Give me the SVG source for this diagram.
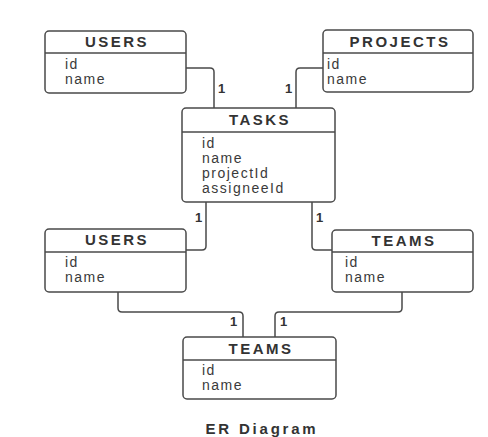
<svg xmlns="http://www.w3.org/2000/svg" width="488" height="437" viewBox="0 0 488 437">
<style>
.box{fill:#fff;stroke:#4a4a4a;stroke-width:1.5}
.div{stroke:#4a4a4a;stroke-width:1.3}
.title{font-family:"Liberation Sans",Arial,sans-serif;font-weight:bold;font-size:15px;letter-spacing:2.5px;fill:#333;text-anchor:middle}
.attr{font-family:"Liberation Sans",Arial,sans-serif;font-size:14px;letter-spacing:1.5px;fill:#3a3a3a}
.card{font-family:"Liberation Sans",Arial,sans-serif;font-weight:bold;font-size:13px;fill:#333}
.conn{fill:none;stroke:#4a4a4a;stroke-width:1.5}
.cap{font-family:"Liberation Sans",Arial,sans-serif;font-weight:bold;font-size:15px;letter-spacing:2.8px;fill:#333;text-anchor:middle}
</style>
<rect width="488" height="437" fill="#fff"/>
<g id="connectors">
<path class="conn" d="M186 68 H210 Q214 68 214 72 V108"/>
<path class="conn" d="M323 68 H300 Q296 68 296 72 V108"/>
<path class="conn" d="M206 202 V246 Q206 250 202 250 H186"/>
<path class="conn" d="M312 202 V246 Q312 250 316 250 H332"/>
<path class="conn" d="M118 292 V308 Q118 312 122 312 H239 Q243 312 243 316 V337"/>
<path class="conn" d="M402 292 V308 Q402 312 398 312 H279 Q275 312 275 316 V337"/>
<text class="card" x="218" y="93">1</text>
<text class="card" x="285" y="93">1</text>
<text class="card" x="195" y="222">1</text>
<text class="card" x="316" y="222">1</text>
<text class="card" x="230" y="326">1</text>
<text class="card" x="280" y="326">1</text>
</g>
<g id="users1">
<rect class="box" x="45" y="31" width="141" height="62" rx="4"/>
<line class="div" x1="45" y1="53" x2="186" y2="53"/>
<text class="title" x="117" y="47">USERS</text>
<text class="attr" x="65" y="69">id</text>
<text class="attr" x="65" y="84">name</text>
</g>
<g id="projects">
<rect class="box" x="323" y="30" width="150" height="62" rx="4"/>
<line class="div" x1="323" y1="53" x2="473" y2="53"/>
<text class="title" x="400" y="47">PROJECTS</text>
<text class="attr" x="327" y="69">id</text>
<text class="attr" x="327" y="84">name</text>
</g>
<g id="tasks">
<rect class="box" x="182" y="108" width="153" height="94" rx="4"/>
<line class="div" x1="182" y1="132" x2="335" y2="132"/>
<text class="title" x="260" y="125">TASKS</text>
<text class="attr" x="202" y="148">id</text>
<text class="attr" x="202" y="163">name</text>
<text class="attr" x="202" y="178">projectId</text>
<text class="attr" x="202" y="193">assigneeId</text>
</g>
<g id="users2">
<rect class="box" x="45" y="229" width="141" height="63" rx="4"/>
<line class="div" x1="45" y1="252" x2="186" y2="252"/>
<text class="title" x="117" y="245">USERS</text>
<text class="attr" x="65" y="267">id</text>
<text class="attr" x="65" y="282">name</text>
</g>
<g id="teams1">
<rect class="box" x="332" y="230" width="141" height="62" rx="4"/>
<line class="div" x1="332" y1="252" x2="473" y2="252"/>
<text class="title" x="404" y="246">TEAMS</text>
<text class="attr" x="345" y="267">id</text>
<text class="attr" x="345" y="282">name</text>
</g>
<g id="teams2">
<rect class="box" x="183" y="337" width="153" height="62" rx="4"/>
<line class="div" x1="183" y1="360" x2="336" y2="360"/>
<text class="title" x="261" y="354">TEAMS</text>
<text class="attr" x="202" y="375">id</text>
<text class="attr" x="202" y="390">name</text>
</g>
<text class="cap" x="262" y="434">ER Diagram</text>
</svg>
